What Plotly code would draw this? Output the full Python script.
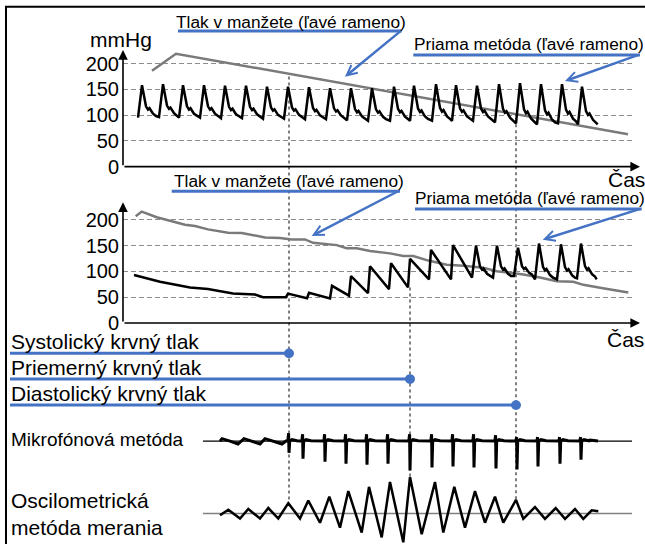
import plotly.graph_objects as go

W, H = 645, 555
FONT = "Liberation Sans, Arial, sans-serif"
BLUE = "#4472C4"
GRAY = "#7a7a7a"
DOT_GRAY = "#808080"

# ---------------- data (time in arbitrary units) ----------------
T_MAX = 509
tick_vals = [0, 50, 100, 150, 200]
tick_text = ["0", "50", "100", "150", "200"]

# top panel: cuff pressure and direct (intra-arterial) pressure
top_cuff_t = [29, 53, 505]
top_cuff_p = [186, 219, 63]
top_beat_t = [19, 40, 60, 81, 102, 123, 144, 165, 186, 207, 228, 249,
              271, 291, 313, 333, 354, 376, 397, 418, 439, 459]
top_beat_peak = [158, 160, 158, 158, 157, 157, 155, 155, 154, 152, 152, 152,
                 155, 157, 160, 158, 157, 160, 162, 160, 160, 155]
top_beat_trough = [95, 96, 95, 95, 94, 94, 93, 93, 92, 92, 90, 89,
                   89, 89, 89, 89, 89, 86, 84, 82, 84, 82]
top_end_t, top_end_p = 474.7, 82

# middle panel
mid_cuff_t = [12.7, 18.7, 33.7, 62, 72, 85, 105, 118.7, 142, 157, 168.7, 182, 190,
              213.7, 223.7, 233.7, 247, 267, 280.3, 290.3, 305.3, 323.7, 340.3,
              360.3, 373.7, 387, 400.3, 417, 433.7, 450.3, 460.3, 480, 505.3]
mid_cuff_p = [207, 216, 205, 190.5, 188, 181.5, 175, 174.5, 166, 165, 162, 162, 155.5,
              151, 145, 145, 139.5, 135, 130, 130, 121, 113, 111,
              107, 100.5, 97, 94, 88, 81, 80, 74, 67.5, 59]
mid_pre_t = [11, 37, 67, 85, 110, 132, 140, 162]
mid_pre_p = [93, 80, 69, 66, 57, 55, 50, 50]
mid_beat_t = [165, 186, 209, 228, 247, 268, 287, 308, 330, 353, 374, 395, 416, 438, 458]
mid_beat_peak = [57, 58.5, 72, 91, 110, 116, 124.5, 141.6, 151, 150, 150, 146, 154, 152.5, 154]
mid_beat_trough = [50, 48, 47.5, 53, 58, 65.6, 69, 84.6, 84.6, 88, 88, 91, 84.6, 84.6, 86.5]
mid_end_t, mid_end_p = 473.7, 84.6

# readings
t_sys, t_mean, t_dia = 166, 287, 393

# microphone (Korotkoff sounds) signal
mic_pre_t = [97, 99, 107, 115, 121, 129, 137, 142, 150, 159, 163]
mic_pre_v = [0, 2.5, 0, -3, 2.5, 0, -3, 2.5, 0, -3, 0]
mic_spike_t = [166, 180, 202, 223, 244, 265, 287, 309, 330, 351, 373, 394, 415, 437, 458]
mic_spike_depth = [-12, -18, -21, -23, -24, -23, -30, -27, -26, -27, -28, -29, -26, -23, -19]
mic_spike_up = [8, 7, 7, 7, 7, 7, 7, 7, 7, 7, 6, 4, 4, 4, 4]
mic_end_t = [467, 475]
mic_end_v = [1, 0]

# oscillometric signal
osc_t = [97, 105.3, 117, 125.3, 137, 145.3, 155.3, 165.3, 177, 185.3, 197, 206.3, 217,
         225.3, 238.7, 246, 258.7, 267, 280.3, 287, 298.7, 312, 320.3, 331.3, 342,
         352, 362, 372, 380.3, 393, 400.3, 412, 422, 432.7, 442, 452, 460.3, 468.7, 475.3]
osc_v = [-1.7, 4, -5, 4.7, -5, 5.7, -5, 10.7, -5, 13.3, -9.3, 17.3, -14.3,
         23, -19.3, 27.3, -24.3, 32.3, -29.3, 37.3, -21, 32.3, -19.3, 27.3, -14.3,
         23, -9.3, 17.3, -9.3, 14, -5.3, 6.7, -5.3, 5.7, -5.3, 4.7, -5.3, 3.3, 2.3]

# ---------------- geometry helpers ----------------
X0_PX, X1_PX = 123, 632
AXES = {  # zero pixel row, pixels per unit, range
    "y": (170, 0.526, [0, 235]),
    "y2": (329.5, 0.526, [0, 235]),
    "y3": (450, 1.0, [-32, 14]),
    "y4": (524, 1.0, [-31, 38]),
}


def t_px(t):
    return X0_PX + t * (X1_PX - X0_PX) / T_MAX


def v_py(ax, v):
    z, s, _ = AXES[ax]
    return z - v * s


def domain(ax):
    _, _, r = AXES[ax]
    return [max(0, 1 - v_py(ax, r[0]) / H), min(1, 1 - v_py(ax, r[1]) / H)]


def px2p(px):
    return px / W


def py2p(py):
    return 1 - py / H


# ---------------- waveform builders ----------------
NOTCH = [(-4, 0), (0, 1), (4, 0.35), (6, 0.25), (7.5, 0.29), (11, 0.12), (14, 0.05)]
SAW = [(-2, 0), (0, 1)]


def beats(times, peaks, troughs, kinds):
    xs, ys = [], []
    for t, p, d, k in zip(times, peaks, troughs, kinds):
        tpl = NOTCH if k == "n" else SAW
        for off, f in tpl:
            xs.append(t + off)
            ys.append(d + f * (p - d))
    return xs, ys


top_x, top_y = beats(top_beat_t, top_beat_peak, top_beat_trough, ["n"] * len(top_beat_t))
top_x.append(top_end_t)
top_y.append(top_end_p)

mid_kinds = ["s" if t < 350 else "n" for t in mid_beat_t]
bx, by = beats(mid_beat_t, mid_beat_peak, mid_beat_trough, mid_kinds)
mid_x = mid_pre_t + bx + [mid_end_t]
mid_y = mid_pre_p + by + [mid_end_p]

mic_x, mic_y = list(mic_pre_t), list(mic_pre_v)
for t, d, u in zip(mic_spike_t, mic_spike_depth, mic_spike_up):
    mic_x += [t - 1.2, t - 0.4, t, t + 0.7, t + 3, t + 8]
    mic_y += [0, u, d, 0, 1.5, 0.3]
mic_x += mic_end_t
mic_y += mic_end_v

fig = go.Figure()
line_kw = dict(mode="lines", hoverinfo="skip", showlegend=False)
fig.add_trace(go.Scatter(x=top_cuff_t, y=top_cuff_p, line=dict(color=GRAY, width=2.5),
                         xaxis="x", yaxis="y", **line_kw))
fig.add_trace(go.Scatter(x=top_x, y=top_y, line=dict(color="black", width=2.5),
                         xaxis="x", yaxis="y", **line_kw))
fig.add_trace(go.Scatter(x=mid_cuff_t, y=mid_cuff_p, line=dict(color=GRAY, width=2.5),
                         xaxis="x", yaxis="y2", **line_kw))
fig.add_trace(go.Scatter(x=mid_x, y=mid_y, line=dict(color="black", width=2.5),
                         xaxis="x", yaxis="y2", **line_kw))
fig.add_trace(go.Scatter(x=[80, T_MAX], y=[0, 0], line=dict(color="black", width=1.2),
                         xaxis="x", yaxis="y3", **line_kw))
fig.add_trace(go.Scatter(x=mic_x, y=mic_y, line=dict(color="black", width=3),
                         xaxis="x", yaxis="y3", **line_kw))
fig.add_trace(go.Scatter(x=[80, T_MAX], y=[0, 0], line=dict(color=DOT_GRAY, width=1.5),
                         xaxis="x", yaxis="y4", **line_kw))
fig.add_trace(go.Scatter(x=osc_t, y=osc_v, line=dict(color="black", width=2.5),
                         xaxis="x", yaxis="y4", **line_kw))

shapes = []
# frame
shapes.append(dict(type="line", xref="paper", yref="paper", x0=px2p(6), x1=px2p(6),
                   y0=0, y1=py2p(6), line=dict(color="black", width=2)))
shapes.append(dict(type="line", xref="paper", yref="paper", x0=px2p(5), x1=1,
                   y0=py2p(7), y1=py2p(7), line=dict(color="black", width=2)))

# vertical dotted guides
guides = [(t_sys, v_py("y", 175), v_py("y4", 11)),
          (t_mean, v_py("y2", 69), v_py("y4", 37)),
          (t_dia, v_py("y", 82), v_py("y4", 14))]
for t, pa, pb in guides:
    shapes.append(dict(type="line", xref="paper", yref="paper",
                       x0=px2p(t_px(t)), x1=px2p(t_px(t)), y0=py2p(pa), y1=py2p(pb),
                       line=dict(color=DOT_GRAY, width=2, dash="3px,3px"), layer="below"))

# reading rows: label, row pixel, text pixel, time
rows = [("Systolický krvný tlak", 360.5, 348, t_sys),
        ("Priemerný krvný tlak", 386.7, 375, t_mean),
        ("Diastolický krvný tlak", 413.3, 401.5, t_dia)]
annotations = []
for label, ry, ty, t in rows:
    xe = t_px(t)
    shapes.append(dict(type="line", xref="paper", yref="paper", x0=px2p(10), x1=px2p(xe),
                       y0=py2p(ry), y1=py2p(ry), line=dict(color=BLUE, width=3)))
    shapes.append(dict(type="circle", xref="paper", yref="paper",
                       x0=px2p(xe - 5), x1=px2p(xe + 5), y0=py2p(ry + 5), y1=py2p(ry - 5),
                       fillcolor=BLUE, line=dict(color=BLUE, width=0)))
    annotations.append(dict(text=label, xref="paper", yref="paper", x=px2p(9), y=py2p(ty),
                            xanchor="left", yanchor="middle", showarrow=False,
                            font=dict(size=21, family=FONT, color="black")))

# callouts: text, text-left px, text-center py, underline (x0, x1, y), arrow tip (x, y)
callouts = [
    ("Tlak v manžete (ľavé rameno)", 174, 22, (178, 401.7, 31.7), (345, 78.3)),
    ("Priama metóda (ľavé rameno)", 412, 45, (413.3, 640, 56), (565, 82.7)),
    ("Tlak v manžete (ľavé rameno)", 172, 185, (171.7, 400, 195), (311.7, 240.7)),
    ("Priama metóda (ľavé rameno)", 413, 202, (415, 641.7, 213.3), (542.7, 244.5)),
]
for text, tx_, ty_, (u0, u1, uy), (ax_, ay_) in callouts:
    annotations.append(dict(text=text, xref="paper", yref="paper", x=px2p(tx_), y=py2p(ty_),
                            xanchor="left", yanchor="middle", showarrow=False,
                            font=dict(size=17.3, family=FONT, color="black")))
    shapes.append(dict(type="line", xref="paper", yref="paper", x0=px2p(u0), x1=px2p(u1),
                       y0=py2p(uy), y1=py2p(uy), line=dict(color=BLUE, width=3)))
    annotations.append(dict(text="", xref="paper", yref="paper", x=px2p(ax_), y=py2p(ay_),
                            ax=u1 - ax_, ay=uy - ay_, showarrow=True, arrowhead=5,
                            arrowsize=0.8, arrowwidth=2.5, arrowcolor=BLUE, standoff=0))

# axes arrows
for yax, ytip in (("y", 226), ("y2", 234)):
    annotations.append(dict(text="", xref="x", yref=yax, x=0, y=ytip, axref="x", ayref=yax,
                            ax=0, ay=0, showarrow=True, arrowhead=2, arrowsize=1.2,
                            arrowwidth=1.6, arrowcolor="black", standoff=0))
    annotations.append(dict(text="", xref="paper", yref=yax, x=px2p(640), y=0,
                            ax=-(640 - X0_PX), ay=0, showarrow=True, arrowhead=2, arrowsize=1.2,
                            arrowwidth=1.6, arrowcolor="black", standoff=0))

# other labels
for text, lx, ly, size in (("mmHg", 88, 40, 21), ("Čas", 606, 183, 21), ("Čas", 605, 346, 21),
                           ("Mikrofónová metóda", 9, 448, 19),
                           ("Oscilometrická<br>metóda merania", 9, 524, 21)):
    annotations.append(dict(text=text, xref="paper", yref="paper", x=px2p(lx), y=py2p(ly),
                            xanchor="left", yanchor="middle", align="left", showarrow=False,
                            font=dict(size=size, family=FONT, color="black")))

yax_common = dict(tickvals=tick_vals, ticktext=tick_text, showgrid=True, gridcolor="#8c8c8c",
                  griddash="5px,3px", gridwidth=1, zeroline=False, showline=False, ticks="",
                  tickfont=dict(size=20, family=FONT, color="black"), ticklabelstandoff=3,
                  anchor="x", fixedrange=True)

fig.update_layout(
    width=W, height=H, margin=dict(l=0, r=0, t=0, b=0),
    paper_bgcolor="white", plot_bgcolor="white", showlegend=False,
    xaxis=dict(domain=[X0_PX / W, X1_PX / W], range=[0, T_MAX], visible=False, fixedrange=True),
    yaxis=dict(domain=domain("y"), range=AXES["y"][2], **yax_common),
    yaxis2=dict(domain=domain("y2"), range=AXES["y2"][2], **yax_common),
    yaxis3=dict(domain=domain("y3"), range=AXES["y3"][2], visible=False, anchor="x"),
    yaxis4=dict(domain=domain("y4"), range=AXES["y4"][2], visible=False, anchor="x"),
    shapes=shapes, annotations=annotations,
    font=dict(family=FONT, color="black"),
)

fig.write_html(
    "out.html",
    config={"displayModeBar": False, "staticPlot": True},
    post_script=("var gd=document.getElementById('{plot_id}');"
                 "gd.style.position='fixed';gd.style.left='0px';gd.style.top='0px';"
                 "document.body.style.margin='0px';"),
)
